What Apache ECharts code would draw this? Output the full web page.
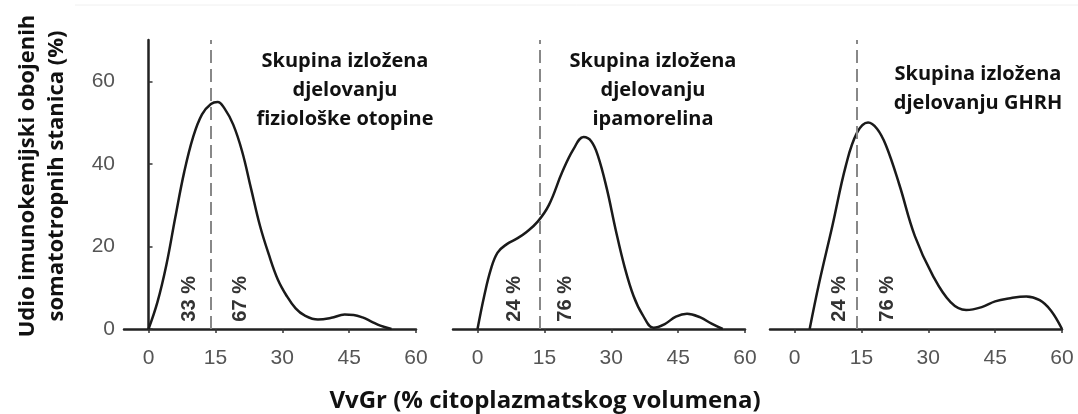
<!DOCTYPE html>
<html>
<head>
    <meta charset="utf-8">
    <title>VvGr</title>
    <script src="https://cdn.jsdelivr.net/npm/echarts@6/dist/echarts.min.js"></script>
    <style>
        body { margin: 0; background: #fff; }
        #main { width: 1078px; height: 414px; }
    </style>
</head>
<body>
    <div id="main"></div>
    <script type="text/javascript">
        // tick values
        var xTicks = [0, 15, 30, 45, 60];
        var yTicks = [0, 20, 40, 60];

        // panel titles
        var titles = [
            'Skupina izložena\ndjelovanju\nfiziološke otopine',
            'Skupina izložena\ndjelovanju\nipamorelina',
            'Skupina izložena\ndjelovanju GHRH'
        ];

        // curves
        var p1X = [0, 2, 4, 6, 8, 10, 12, 14, 15.5, 17, 19, 21, 23, 25, 27, 29, 31, 33, 35, 38, 41, 44, 46, 48, 50, 52, 54.5];
        var p1Y = [0, 6.5, 15.5, 27, 38, 46.5, 52, 54.5, 55, 53.5, 49.5, 43, 34, 25, 18, 12, 8, 5, 3.3, 2.3, 2.7, 3.5, 3.4, 2.8, 1.8, 0.8, 0];

        var p2X = [0, 1.5, 3, 4.5, 6.5, 9, 11, 13.5, 16, 19, 21.5, 23.8, 25.5, 27, 29, 31, 33, 35, 37, 39.5, 42, 44.5, 47, 50, 52.5, 55];
        var p2Y = [0, 8, 14.5, 18.5, 20.5, 22, 23.5, 26, 30, 38, 43.5, 46.5, 45.5, 42, 34, 24, 15, 8, 3.5, 0.3, 1.2, 3, 3.7, 2.8, 1.3, 0];

        var p3X = [3.4, 5.5, 8.5, 11.5, 14, 16.5, 18.5, 20.5, 23.5, 27, 31, 35, 38.5, 42, 45, 48, 52, 55, 57.5, 60];
        var p3Y = [0, 11, 25, 39.5, 47.5, 50, 48.5, 44.5, 35, 22.5, 13, 6.5, 4.6, 5.3, 6.7, 7.4, 7.9, 7, 4.5, 0];

        // dashed split value and percentage labels (below / above)
        var splitAt = 14;
        var pctText = [['33 %', '67 %'], ['24 %', '76 %'], ['24 %', '76 %']];
        var pctX = [[9.2, 20.6], [8.4, 19.7], [10.1, 20.9]];
        var pctY = 7.3;

        var gridLeft = [124, 453, 770];
        var curvesX = [p1X, p2X, p3X];
        var curvesY = [p1Y, p2Y, p3Y];

        var myChart = echarts.init(document.getElementById('main'));

        var grids = [], xAxes = [], yAxes = [], series = [];
        for (var i = 0; i < 3; i++) {
            grids.push({ left: gridLeft[i], top: 40, width: 292, height: 289 });
            xAxes.push({
                type: 'value', gridIndex: i, min: -5.5, max: 60,
                splitLine: { show: false },
                axisLine: { lineStyle: { color: '#222', width: 2.5 } },
                axisTick: { customValues: xTicks, length: 4, lineStyle: { color: '#333', width: 1.5 } },
                axisLabel: { customValues: xTicks, margin: 19, color: '#555', fontSize: 21, fontFamily: 'Liberation Sans' }
            });
            yAxes.push({
                type: 'value', gridIndex: i, min: 0, max: 70,
                show: i === 0,
                splitLine: { show: false },
                axisLine: { show: true, lineStyle: { color: '#222', width: 2.5 } },
                axisTick: { show: true, inside: true, customValues: yTicks, length: 4, lineStyle: { color: '#333', width: 1.5 } },
                axisLabel: { customValues: yTicks, margin: 9, color: '#555', fontSize: 21, fontFamily: 'Liberation Sans' }
            });
            var pts = curvesX[i].map(function (x, k) { return [x, curvesY[i][k]]; });
            series.push({
                type: 'line', xAxisIndex: i, yAxisIndex: i,
                data: pts, smooth: 0.4, showSymbol: false, silent: true,
                lineStyle: { color: '#1a1a1a', width: 2.5 },
                markLine: {
                    silent: true, symbol: 'none', label: { show: false },
                    lineStyle: { color: '#888', width: 2, type: [13, 6] },
                    data: [{ xAxis: splitAt }]
                },
                markPoint: {
                    symbol: 'circle', symbolSize: 0, silent: true,
                    label: {
                        show: true, position: 'inside', rotate: 90,
                        color: '#333', fontSize: 20, fontWeight: 'bold', fontFamily: 'Liberation Sans',
                        formatter: function (p) { return p.name; }
                    },
                    data: [
                        { name: pctText[i][0], coord: [pctX[i][0], pctY] },
                        { name: pctText[i][1], coord: [pctX[i][1], pctY] }
                    ]
                }
            });
        }

        var titleFont = 'bold 20px "Open Sans"';
        var option = {
            backgroundColor: '#fff',
            animation: false,
            grid: grids,
            xAxis: xAxes,
            yAxis: yAxes,
            series: series,
            graphic: [
                { type: 'line', shape: { x1: 75, y1: 5, x2: 1078, y2: 5 }, style: { stroke: '#f0f0f0', lineWidth: 1 } },
                { type: 'text', x: 345, y: 47, style: { text: titles[0], font: titleFont, lineHeight: 29, textAlign: 'center', fill: '#111' } },
                { type: 'text', x: 653, y: 47, style: { text: titles[1], font: titleFont, lineHeight: 29, textAlign: 'center', fill: '#111' } },
                { type: 'text', x: 978, y: 60, style: { text: titles[2], font: titleFont, lineHeight: 29, textAlign: 'center', fill: '#111' } },
                {
                    type: 'text', x: 42, y: 176, rotation: Math.PI / 2,
                    style: {
                        text: 'Udio imunokemijski obojenih\nsomatotropnih stanica (%)',
                        font: 'bold 22px "Open Sans"', lineHeight: 29,
                        textAlign: 'center', textVerticalAlign: 'middle', fill: '#111'
                    }
                },
                {
                    type: 'text', x: 545, y: 401,
                    style: {
                        text: 'VvGr (% citoplazmatskog volumena)',
                        font: 'bold 24px "Open Sans"',
                        textAlign: 'center', textVerticalAlign: 'middle', fill: '#111'
                    }
                }
            ]
        };
        myChart.setOption(option);
    </script>
</body>
</html>
